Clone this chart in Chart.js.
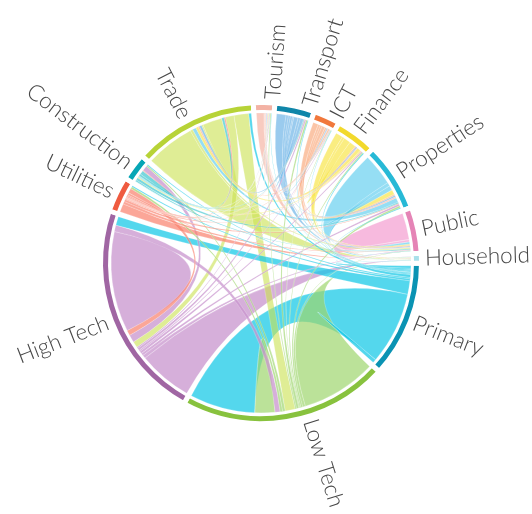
<!DOCTYPE html>
<html>
<head>
<meta charset="utf-8">
<script src="https://cdn.jsdelivr.net/npm/chart.js@4.4.1/dist/chart.umd.min.js"></script>
<style>
  html, body { margin: 0; padding: 0; background: #fff; }
  #wrap { width: 532px; height: 514px; }
</style>
</head>
<body>
<div id="wrap"><canvas id="chord"></canvas></div>
<script>
// sectors in data order, drawn clockwise starting just below 3 o'clock
const sectors = ['Primary', 'Low Tech', 'High Tech', 'Utilities', 'Construction', 'Trade', 'Tourism',
  'Transport', 'ICT', 'Finance', 'Properties', 'Public', 'Household'];
const ringColors = ['#0a93b3', '#88c23e', '#a066a3', '#ef5b40', '#06a6b5', '#b7d337', '#f3b2a4',
  '#0f86a9', '#f1783c', '#f2d92c', '#27b9d6', '#e584b6', '#a9e0ea'];
const ribbonColors = ['rgba(18,200,230,0.72)', 'rgba(158,214,110,0.7)', 'rgba(200,148,206,0.75)',
  'rgba(250,128,108,0.7)', 'rgba(30,188,200,0.6)', 'rgba(204,226,84,0.62)', 'rgba(244,168,150,0.6)',
  'rgba(86,168,226,0.6)', 'rgba(248,158,108,0.6)', 'rgba(247,228,62,0.65)', 'rgba(78,200,236,0.6)',
  'rgba(241,140,200,0.6)', 'rgba(80,208,226,0.6)'];

// flow width at the row's own sector, columns in the same order as sectors
const fromPrimary      = [1.5, 29.5, 5.5, 0.8, 0.5, 1.2, 0.3, 0.5, 0.2, 0.5, 0.5, 0.5, 1];
const fromLowTech      = [26, 8, 2, 1, 1, 4, 0.5, 1, 0.3, 0.5, 0.8, 1, 30];
const fromHighTech     = [3.5, 2.5, 40, 2, 3, 2.5, 0.5, 1, 0.5, 1, 1, 1.3, 21.5];
const fromUtilities    = [0.5, 1, 2.2, 1, 0.5, 0.6, 0.2, 0.4, 0.2, 0.4, 1, 1.2, 3.8];
const fromConstruction = [0.4, 0.6, 2.5, 0.3, 2, 1, 0.2, 0.3, 0.2, 0.4, 1.3, 0.8, 0];
const fromTrade        = [1, 6, 3.5, 0.5, 1, 8, 0.5, 1, 0.5, 1, 1.5, 1, 19.75];
const fromTourism      = [0.2, 0.5, 0.3, 0.1, 0.1, 0.5, 0.5, 0.5, 0.1, 0.3, 0.5, 0.2, 3.95];
const fromTransport    = [0.3, 0.8, 0.6, 0.2, 0.3, 1.5, 1, 2, 0.5, 1, 1, 1, 4.2];
const fromICT          = [0.2, 0.3, 0.3, 0.1, 0.2, 0.8, 0.2, 0.5, 1, 1.5, 1, 1, 2.6];
const fromFinance      = [0.5, 0.5, 0.5, 0.2, 0.5, 1.5, 0.3, 0.5, 0.5, 3, 3, 1, 3.2];
const fromProperties   = [0.4, 0.8, 0.8, 0.3, 0.5, 2, 0.5, 0.7, 0.5, 2, 2, 1.5, 13.4];
const fromPublic       = [0.1, 0.2, 0.3, 0.2, 0.3, 0.5, 0.2, 0.5, 0.3, 0.5, 1, 1, 11.7];
const fromHousehold    = [0.2, 0.3, 0.2, 0.1, 0.2, 0.5, 0.3, 0.3, 0.2, 0.3, 0.7, 0.3, 0];

const flows = [fromPrimary, fromLowTech, fromHighTech, fromUtilities, fromConstruction, fromTrade,
  fromTourism, fromTransport, fromICT, fromFinance, fromProperties, fromPublic, fromHousehold];
const totals = flows.map(row => row.reduce((a, b) => a + b, 0));

const ribbonRadius = 150;
const labelRadius = 164;
// small hand nudges (degrees) where the label sits off its arc centre
const labelNudge = { 'Tourism': 3, 'Transport': 5, 'ICT': 3, 'Low Tech': -8, 'Trade': -2 };

const chordPlugin = {
  id: 'chord',
  afterDatasetsDraw(chart) {
    const arcs = chart.getDatasetMeta(0).data;
    const ctx = chart.ctx;
    const cx = arcs[0].x, cy = arcs[0].y;
    const r = ribbonRadius;
    const pad = 2.6 / r;
    const n = sectors.length;

    // sub-ranges of every sector, partners taken in reverse data order
    const spans = sectors.map(() => []);
    flows.forEach((row, i) => {
      const s = arcs[i].startAngle + pad;
      const e = arcs[i].endAngle - pad;
      const scale = (e - s) / totals[i];
      let pos = s;
      for (let j = n - 1; j >= 0; j--) {
        const w = row[j] * scale;
        spans[i][j] = [pos, pos + w];
        pos += w;
      }
    });

    // one chord per pair, coloured by its wider end
    const chords = [];
    for (let i = 0; i < n; i++) {
      for (let j = i; j < n; j++) {
        if (!flows[i][j] && !flows[j][i]) continue;
        const src = flows[i][j] >= flows[j][i] ? i : j;
        const tgt = src === i ? j : i;
        chords.push({ a: spans[src][tgt], b: spans[tgt][src], color: ribbonColors[src],
          size: flows[i][j] + flows[j][i] });
      }
    }
    chords.sort((p, q) => q.size - p.size);

    ctx.save();
    chords.forEach(c => {
      const [s0, s1] = c.a;
      const [t0, t1] = c.b;
      ctx.beginPath();
      ctx.arc(cx, cy, r, s0, s1);
      ctx.quadraticCurveTo(cx, cy, cx + r * Math.cos(t0), cy + r * Math.sin(t0));
      ctx.arc(cx, cy, r, t0, t1);
      ctx.quadraticCurveTo(cx, cy, cx + r * Math.cos(s0), cy + r * Math.sin(s0));
      ctx.closePath();
      ctx.fillStyle = c.color;
      ctx.fill();
      ctx.strokeStyle = 'rgba(255,255,255,0.35)';
      ctx.lineWidth = 0.6;
      ctx.stroke();
    });
    ctx.restore();
  },
  afterDraw(chart) {
    const arcs = chart.getDatasetMeta(0).data;
    const ctx = chart.ctx;
    ctx.save();
    ctx.font = '300 22.5px Lato, "Open Sans", sans-serif';
    ctx.fillStyle = '#474747';
    ctx.textBaseline = 'middle';
    arcs.forEach((arc, i) => {
      const nudge = (labelNudge[sectors[i]] || 0) * Math.PI / 180;
      const mid = (arc.startAngle + arc.endAngle) / 2 + nudge;
      let deg = (mid * 180 / Math.PI + 90) % 360;
      if (deg < 0) deg += 360;
      ctx.save();
      ctx.translate(arc.x, arc.y);
      if (deg < 180) {
        ctx.rotate(mid);
        ctx.textAlign = 'left';
        ctx.fillText(sectors[i], labelRadius, 0);
      } else {
        ctx.rotate(mid + Math.PI);
        ctx.textAlign = 'right';
        ctx.fillText(sectors[i], -labelRadius, 0);
      }
      ctx.restore();
    });
    ctx.restore();
  }
};

new Chart(document.getElementById('chord'), {
  type: 'doughnut',
  data: {
    labels: sectors,
    datasets: [{
      data: totals,
      backgroundColor: ringColors,
      borderColor: '#ffffff',
      borderWidth: 5
    }]
  },
  options: {
    responsive: true,
    maintainAspectRatio: false,
    animation: false,
    events: [],
    rotation: 90.1,
    radius: 160.5,
    cutout: '93.77%',
    layout: { padding: { left: 0, right: 10, top: 12, bottom: 0 } },
    plugins: {
      legend: { display: false },
      tooltip: { enabled: false }
    }
  },
  plugins: [chordPlugin]
});
</script>
</body>
</html>
